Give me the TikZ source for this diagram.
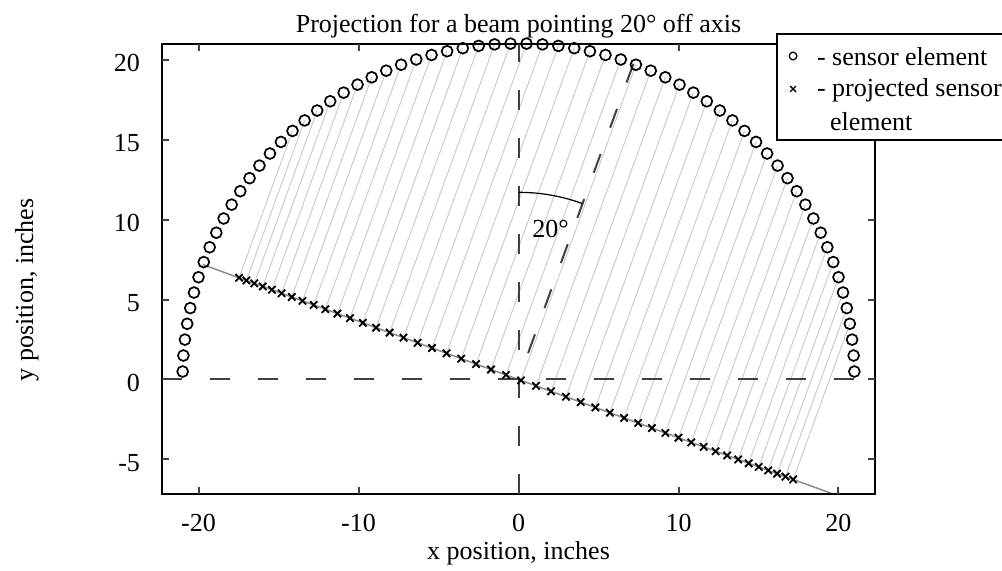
\documentclass[tikz,border=0pt]{standalone}
\usepackage{fontspec}
\setmainfont{Liberation Serif}
\begin{document}
\begin{tikzpicture}[x=8pt,y=8pt,
  font=\fontsize{13}{15.6}\selectfont,
  axisline/.style={line width=1pt,black},
  tickline/.style={line width=1pt,black!75},
  guide/.style={line width=1pt,black!75,dash pattern=on 10pt off 14pt},
  raystyle/.style={line width=0.5pt,black!20},
  projline/.style={line width=0.75pt,black!45},
  sensor/.style={line width=0.85pt,black},
  xmk/.style={line width=0.9pt,black},
  arcstyle/.style={line width=0.6pt,black},
  legendbox/.style={line width=0.8pt,black}]
\useasboundingbox (-32.41,-11.91) rectangle (30.22,23.72);
% sensor element positions
\foreach \k in {0,...,65}{%
  \pgfmathsetmacro\a{(\k+0.5)*180/66}%
  \coordinate (s\k) at (\a:21);}
% projection rays
\foreach \k in {3,...,48}{%
  \pgfmathsetmacro\a{(\k+0.5)*180/66}%
  \pgfmathsetmacro\t{21*cos(\a+20)}%
  \coordinate (p\k) at (-20:\t);
  \draw[raystyle] (s\k) -- (p\k);}
% projection line
\coordinate (pl) at (160:21);
\coordinate (pr) at (-20:21);
\draw[projline] (pl) -- (pr);
% guide lines
\coordinate (vb) at (0,-7.18);
\coordinate (vt) at (0,21);
\coordinate (hl) at (-22.27,0);
\coordinate (hr) at (22.27,0);
\coordinate (o) at (0,0);
\coordinate (bt) at (70:21);
\draw[guide] (vb) -- (vt);
\draw[guide] (hl) -- (hr);
\draw[guide] (bt) -- (o);
% angle arc
\draw[arcstyle] (90:11.7) arc[start angle=90,end angle=70,radius=11.7];
\node[anchor=base] (deg) at (2.0,8.9) {20°};
% sensor circles
\foreach \k in {0,...,65}{\draw[sensor] (s\k) circle[radius=0.34];}
% projected marks
\foreach \k in {3,...,48}{%
  \draw[xmk] (p\k) +(-0.23,-0.23) -- +(0.23,0.23) +(-0.23,0.23) -- +(0.23,-0.23);}
% axes
\draw[axisline] (-22.27,-7.18) rectangle (22.27,21);
\foreach \x in {-20,-10,0,10,20}{%
  \draw[tickline] (\x,-7.18) -- ++(0,0.44);
  \draw[tickline] (\x,21) -- ++(0,-0.44);
  \node[anchor=base] at (\x,-9.47) {\x};}
\foreach \y in {-5,0,5,10,15,20}{%
  \draw[tickline] (-22.27,\y) -- ++(0.44,0);
  \draw[tickline] (22.27,\y) -- ++(-0.44,0);
  \node[anchor=base east] at (-23.22,\y-0.73) {\y};}
\node[anchor=base] (title) at (0,21.66) {Projection for a beam pointing 20° off axis};
\node[anchor=base] (xlab) at (0,-11.28) {x position, inches};
\node[rotate=90,anchor=base] (ylab) at (-30.34,5.6) {y position, inches};
% legend
\fill[white] (16.16,14.97) rectangle (30.22,21.59);
\draw[legendbox] (30.22,21.59) -- (16.16,21.59) -- (16.16,14.97) -- (30.22,14.97);
\draw[line width=0.65pt] (17.16,20.22) circle[radius=0.24];
\draw[line width=0.65pt] (17.16,18.16) +(-0.18,-0.18) -- +(0.18,0.18) +(-0.18,0.18) -- +(0.18,-0.18);
\node[anchor=base west] (l1) at (18.22,19.61) {- sensor element};
\node[anchor=base west] (l2) at (18.22,17.66) {- projected sensor};
\node[anchor=base west] (l3) at (19.03,15.59) {element};
\end{tikzpicture}
\end{document}
